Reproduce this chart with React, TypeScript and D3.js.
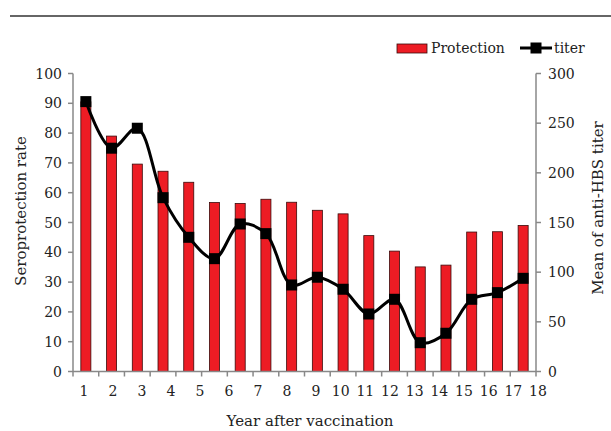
import React, { useEffect, useRef } from 'react';
import * as d3 from 'd3';

const years = [1, 2, 3, 4, 5, 6, 7, 8, 9, 10, 11, 12, 13, 14, 15, 16, 17, 18];
const protection = [90.5, 79.0, 69.6, 67.2, 63.5, 56.7, 56.4, 57.8, 56.8, 54.1, 52.9, 45.6, 40.4, 35.1, 35.7, 46.8, 46.9, 49.0];
const titer = [271.7, 224.8, 244.9, 175, 135.1, 113.6, 148.5, 138.8, 87.1, 94.9, 82.8, 57.9, 72.7, 29.0, 38.5, 72.7, 79.4, 93.8];
const leftTicks = [0, 10, 20, 30, 40, 50, 60, 70, 80, 90, 100];
const rightTicks = [0, 50, 100, 150, 200, 250, 300];

const FONT = '"DejaVu Serif", serif';
const AXIS = '#888888';
const RED = '#ED1C24';

const App = () => {
  const svgRef = useRef<SVGSVGElement | null>(null);

  useEffect(() => {
    const svg = d3.select(svgRef.current);
    svg.selectAll('*').remove();

    const left = 73;
    const right = 536;
    const top = 73.5;
    const bottom = 371.5;

    const x = d3
      .scaleBand<number>()
      .domain(years)
      .range([left, right])
      .paddingInner(0.61)
      .paddingOuter(0.305);
    const xEdge = d3.scaleLinear().domain([0, years.length]).range([left, right]);
    // labels in the original sit unevenly under the ticks
    const xLabel = d3.scaleLinear().domain([1, 9, 18]).range([84, 316, 538]);
    const yL = d3.scaleLinear().domain([0, 100]).range([bottom, top]);
    const yR = d3.scaleLinear().domain([0, 300]).range([bottom, top]);

    // top rule
    svg.append('line')
      .attr('x1', 10).attr('x2', 611).attr('y1', 16).attr('y2', 16)
      .attr('stroke', '#333').attr('stroke-width', 1.6);

    // bars
    svg.append('g')
      .selectAll('rect')
      .data(protection)
      .enter()
      .append('rect')
      .attr('x', (d, i) => x(years[i]) as number)
      .attr('y', (d) => yL(d))
      .attr('width', x.bandwidth())
      .attr('height', (d) => bottom - yL(d))
      .attr('fill', RED)
      .attr('stroke', '#3a0a0a')
      .attr('stroke-width', 0.8);

    // axes
    const axes = svg.append('g').attr('stroke', AXIS).attr('stroke-width', 1.5);
    axes.append('line').attr('x1', left).attr('x2', left).attr('y1', top).attr('y2', bottom);
    axes.append('line').attr('x1', right).attr('x2', right).attr('y1', top).attr('y2', bottom);
    axes.append('line').attr('x1', left).attr('x2', right).attr('y1', bottom).attr('y2', bottom);
    leftTicks.forEach((t) => {
      axes.append('line').attr('x1', left - 5).attr('x2', left).attr('y1', yL(t)).attr('y2', yL(t));
    });
    rightTicks.forEach((t) => {
      axes.append('line').attr('x1', right).attr('x2', right + 5).attr('y1', yR(t)).attr('y2', yR(t));
    });
    d3.range(years.length + 1).forEach((i) => {
      axes.append('line').attr('x1', xEdge(i)).attr('x2', xEdge(i)).attr('y1', bottom).attr('y2', bottom + 5);
    });

    const text = svg.append('g').attr('font-family', FONT).attr('font-size', 14).attr('fill', '#222');
    leftTicks.forEach((t) => {
      text.append('text').attr('x', 62).attr('y', yL(t)).attr('dy', '0.36em')
        .attr('text-anchor', 'end').text(t);
    });
    rightTicks.forEach((t) => {
      text.append('text').attr('x', 548).attr('y', yR(t)).attr('dy', '0.36em')
        .attr('text-anchor', 'start').text(t);
    });
    years.forEach((yr) => {
      text.append('text').attr('x', xLabel(yr)).attr('y', 396)
        .attr('text-anchor', 'middle').text(yr);
    });
    text.append('text').attr('x', 310).attr('y', 426).attr('text-anchor', 'middle')
      .attr('font-size', 15).text('Year after vaccination');
    text.append('text').attr('transform', 'translate(26,211) rotate(-90)')
      .attr('text-anchor', 'middle').attr('font-size', 15).text('Seroprotection rate');
    text.append('text').attr('transform', 'translate(603,208) rotate(-90)')
      .attr('text-anchor', 'middle').attr('font-size', 15).text('Mean of anti-HBS titer');

    // titer line
    const line = d3
      .line<number>()
      .x((d, i) => (x(years[i]) as number) + x.bandwidth() / 2)
      .y((d) => yR(d))
      .curve(d3.curveCatmullRom.alpha(0.5));
    svg.append('path')
      .datum(titer)
      .attr('d', line)
      .attr('fill', 'none')
      .attr('stroke', '#000')
      .attr('stroke-width', 3);
    svg.append('g')
      .selectAll('rect')
      .data(titer)
      .enter()
      .append('rect')
      .attr('x', (d, i) => (x(years[i]) as number) + x.bandwidth() / 2 - 5.5)
      .attr('y', (d) => yR(d) - 5.5)
      .attr('width', 11)
      .attr('height', 11)
      .attr('fill', '#000');

    // legend
    const lg = svg.append('g');
    lg.append('rect').attr('x', 397).attr('y', 44).attr('width', 30).attr('height', 9)
      .attr('fill', RED).attr('stroke', '#3a0a0a').attr('stroke-width', 0.8);
    lg.append('text').attr('x', 431).attr('y', 53).attr('font-family', FONT)
      .attr('font-size', 14).attr('fill', '#222').text('Protection');
    lg.append('line').attr('x1', 520).attr('x2', 552).attr('y1', 48).attr('y2', 48)
      .attr('stroke', '#000').attr('stroke-width', 3);
    lg.append('rect').attr('x', 530.5).attr('y', 42.5).attr('width', 11).attr('height', 11).attr('fill', '#000');
    lg.append('text').attr('x', 554).attr('y', 53).attr('font-family', FONT)
      .attr('font-size', 14).attr('fill', '#222').text('titer');
  }, []);

  return (
    <svg
      ref={svgRef}
      width={611}
      height={431}
      style={{ position: 'absolute', left: 0, top: 0, background: '#fff' }}
    ></svg>
  );
};

export default App;
